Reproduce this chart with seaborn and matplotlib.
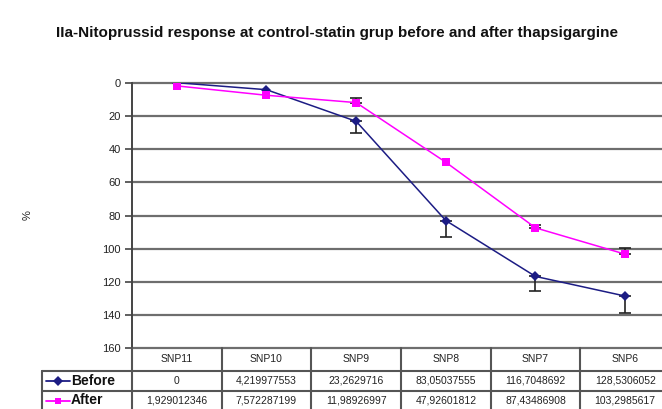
import matplotlib
matplotlib.use("Agg")
import matplotlib.pyplot as plt
import matplotlib.transforms as mtransforms
import numpy as np
import pandas as pd
import seaborn as sns

# Chart data
categories = ["SNP11", "SNP10", "SNP9", "SNP8", "SNP7", "SNP6"]
before_vals = [0, 4.219977553, 23.2629716, 83.05037555, 116.7048692, 128.5306052]
after_vals = [1.929012346, 7.572287199, 11.98926997, 47.92601812, 87.43486908, 103.2985617]
before_err = [0, 0, 7, 10, 9, 10]
after_err = [0, 0, 2.5, 0, 1.5, 3.5]
before_text = ["0", "4,219977553", "23,2629716", "83,05037555", "116,7048692", "128,5306052"]
after_text = ["1,929012346", "7,572287199", "11,98926997", "47,92601812", "87,43486908", "103,2985617"]
series_names = ["Before", "After"]
y_ticks = [0, 20, 40, 60, 80, 100, 120, 140, 160]
title = "IIa-Nitoprussid response at control-statin grup before and after thapsigargine"

sns.set_theme(style="white")
plt.rcParams["font.family"] = ["Liberation Sans", "DejaVu Sans"]

W, H = 662, 409
fig = plt.figure(figsize=(W / 100, H / 100), dpi=100)
fig.patch.set_facecolor("white")


def fx(px):
    return px / W


def fy(py):
    return 1 - py / H


ax_left, ax_right, ax_top, ax_bottom = 132, 670, 82.7, 348.3
ax = fig.add_axes([fx(ax_left), fy(ax_bottom), fx(ax_right - ax_left), (ax_bottom - ax_top) / H])

pos = np.arange(len(categories))
df = pd.DataFrame({
    "pos": np.concatenate([pos, pos]),
    "value": before_vals + after_vals,
    "series": [series_names[0]] * len(pos) + [series_names[1]] * len(pos),
})

colors = {"Before": "#1c1c84", "After": "#ff00ff"}
sns.lineplot(data=df, x="pos", y="value", hue="series", style="series",
             palette=colors, markers={"Before": "D", "After": "s"},
             dashes=False, linewidth=1.1, markersize=5.5, markeredgewidth=0,
             legend=False, ax=ax, zorder=3)

# One-sided error bars: Before extends downward, After upward (only where present)
b_err = np.array(before_err, dtype=float)
a_err = np.array(after_err, dtype=float)
bm = b_err > 0
am = a_err > 0
ax.errorbar(pos[bm], np.array(before_vals)[bm], yerr=[np.zeros(bm.sum()), b_err[bm]], fmt="none",
            ecolor="#222222", elinewidth=1.2, capsize=4, capthick=1.2, zorder=2)
ax.errorbar(pos[am], np.array(after_vals)[am], yerr=[a_err[am], np.zeros(am.sum())], fmt="none",
            ecolor="#222222", elinewidth=1.2, capsize=4, capthick=1.2, zorder=2)

ax.set_xlim(-0.5, len(categories) - 0.5)
ax.set_ylim(160, 0)
ax.set_yticks(y_ticks)
ax.set_yticklabels([str(t) for t in y_ticks], fontsize=8, color="#222222")
ax.set_xticks([])
ax.set_xlabel("")
ax.set_ylabel("")
for t in y_ticks:
    ax.axhline(t, color="#6e6e6e", lw=1.6, zorder=1, clip_on=False)
for side in ["top", "right", "bottom"]:
    ax.spines[side].set_visible(False)
ax.spines["left"].set_color("#444444")
ax.spines["left"].set_linewidth(1.4)
ax.tick_params(axis="y", direction="out", length=5, width=1.2, color="#444444", pad=3, left=True)
ax.set_facecolor("white")

fig.text(fx(337), fy(33), title, ha="center", va="center", fontsize=11, fontweight="bold", color="#111111")
fig.text(fx(28), fy(215), "%", ha="center", va="center", rotation=90, fontsize=8, color="#222222")

# Data table under the plot
tr = mtransforms.blended_transform_factory(ax.transData, fig.transFigure)
line_kw = dict(color="#555555", lw=1.5, zorder=5, clip_on=False)
row_top, row1, row2, row_bot = 348.3, 370.5, 391, 412
for k in range(len(categories) + 1):
    fig.add_artist(plt.Line2D([k - 0.5, k - 0.5], [fy(row_top), fy(row_bot)], transform=tr, **line_kw))
fig.add_artist(plt.Line2D([fx(42), fx(42)], [fy(row1), fy(row_bot)], transform=fig.transFigure, **line_kw))
for yy in (row1, row2):
    fig.add_artist(plt.Line2D([fx(42), fx(W + 10)], [fy(yy), fy(yy)], transform=fig.transFigure, **line_kw))

for i, c in enumerate(categories):
    fig.text(i, fy((row_top + row1) / 2), c, transform=tr, ha="center", va="center", fontsize=7.5, color="#222222")
    fig.text(i, fy((row1 + row2) / 2), before_text[i], transform=tr, ha="center", va="center", fontsize=7.5, color="#222222")
    fig.text(i, fy((row2 + 409) / 2 + 0.5), after_text[i], transform=tr, ha="center", va="center", fontsize=7.5, color="#222222")

# Legend keys inside the table
for name, marker, yc in (("Before", "D", (row1 + row2) / 2), ("After", "s", (row2 + 409) / 2 + 0.5)):
    fig.add_artist(plt.Line2D([fx(46), fx(70)], [fy(yc), fy(yc)], transform=fig.transFigure,
                              color=colors[name], lw=1.3, marker=None, zorder=6))
    fig.add_artist(plt.Line2D([fx(58)], [fy(yc)], transform=fig.transFigure, color=colors[name],
                              marker=marker, markersize=5, markeredgewidth=0, linestyle="none", zorder=7))
    fig.text(fx(71), fy(yc), name, ha="left", va="center", fontsize=10, fontweight="bold", color="#111111")

fig.savefig("out.png", dpi=100, facecolor="white")
